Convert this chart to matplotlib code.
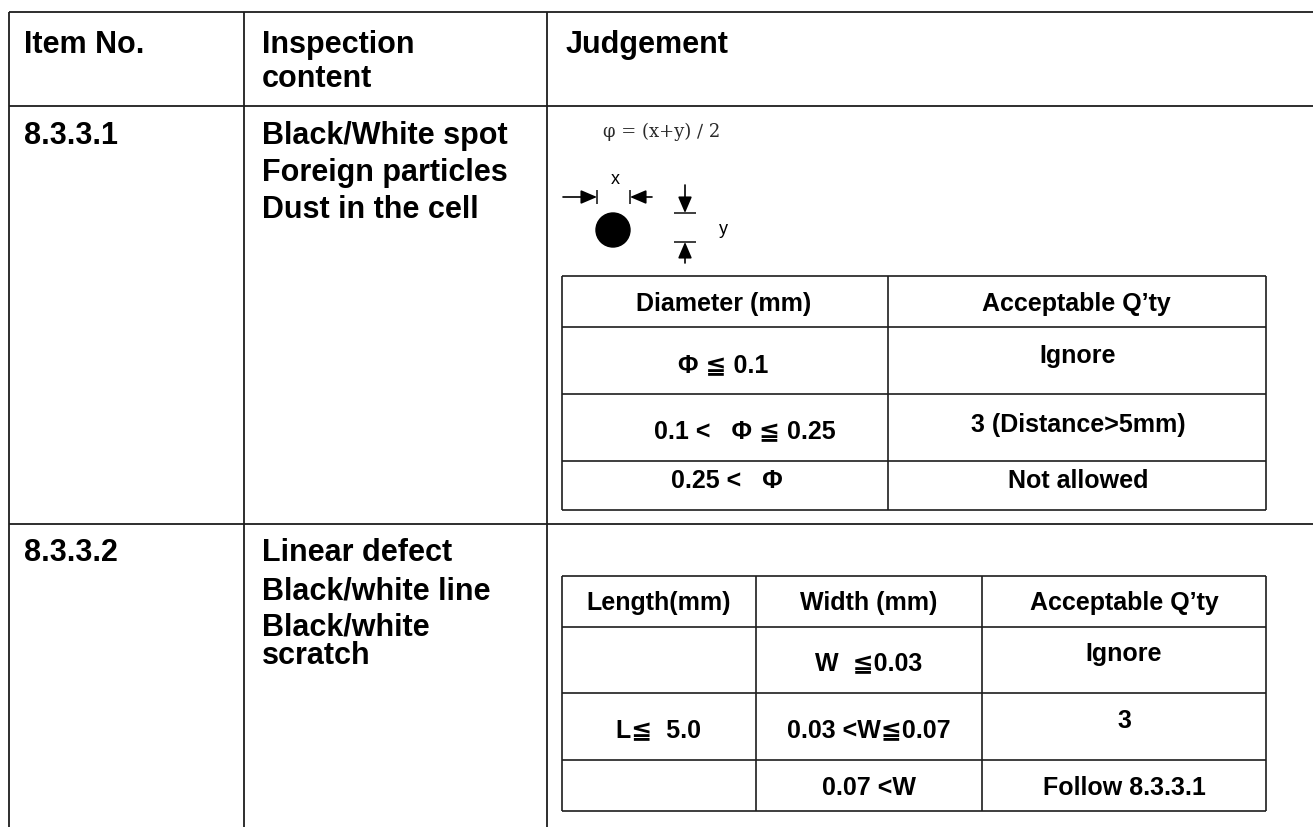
import matplotlib
matplotlib.use('Agg')
import matplotlib.pyplot as plt
from matplotlib.patches import Circle

# ---------------- data ----------------
header_cols = ["Item No.", "Inspection", "content", "Judgement"]
item_nos = ["8.3.3.1", "8.3.3.2"]
content_1 = ["Black/White spot", "Foreign particles", "Dust in the cell"]
content_2 = ["Linear defect", "Black/white line", "Black/white", "scratch"]
formula = "φ = (x+y) ∕ 2"
dim_labels = ["x", "y"]

spot_headers = ["Diameter (mm)", "Acceptable Q\u2019ty"]
spot_diameter = ["Φ ≦ 0.1", "0.1 <   Φ ≦ 0.25", "0.25 <   Φ"]
spot_qty = ["Ignore", "3 (Distance>5mm)", "Not allowed"]

line_headers = ["Length(mm)", "Width (mm)", "Acceptable Q\u2019ty"]
line_length = ["", "L≦  5.0", ""]
line_width = ["W  ≦0.03", "0.03 <W≦0.07", "0.07 <W"]
line_qty = ["Ignore", "3", "Follow 8.3.3.1"]

# ---------------- figure ----------------
W, H = 1313, 827
fig = plt.figure(figsize=(W / 100, H / 100), dpi=100)
ax = fig.add_axes([0, 0, 1, 1])
ax.set_xlim(0, W)
ax.set_ylim(H, 0)
ax.axis('off')

FAM = ['Liberation Sans', 'DejaVu Sans', 'Noto Sans CJK SC']
BIG = dict(family=FAM, weight='bold', color='black', fontsize=22)
SMALL = dict(family=FAM, weight='bold', color='black', fontsize=18)
LC = '#1e1e1e'


def hline(y, x0, x1, lw=1.3):
    ax.plot([x0, x1], [y, y], color=LC, lw=lw, solid_capstyle='butt')


def vline(x, y0, y1, lw=1.3):
    ax.plot([x, x], [y0, y1], color=LC, lw=lw, solid_capstyle='butt')


# outer table
for y in (12, 106, 524):
    hline(y, 9, W)
for x in (9, 244, 547):
    vline(x, 12, H)

# header texts
ax.text(24, 53, header_cols[0], ha='left', va='baseline', **BIG)
ax.text(262, 53, header_cols[1], ha='left', va='baseline', **BIG)
ax.text(262, 87, header_cols[2], ha='left', va='baseline', **BIG)
ax.text(566, 53, header_cols[3], ha='left', va='baseline', **BIG)

# row 1
ax.text(24, 144, item_nos[0], ha='left', va='baseline', **BIG)
for i, t in enumerate(content_1):
    ax.text(262, 144 + 37 * i, t, ha='left', va='baseline', **BIG)

# row 2
ax.text(24, 561, item_nos[1], ha='left', va='baseline', **BIG)
for t, yb in zip(content_2, (561, 599, 636, 664)):
    ax.text(262, yb, t, ha='left', va='baseline', **BIG)

# ---------------- spot diagram ----------------
ax.text(603, 137, formula, ha='left', va='baseline', fontsize=13,
        family=['DejaVu Serif'], color='#2a2a2a')


def arrow(tail, tip):
    ax.annotate('', xy=tip, xytext=tail,
                arrowprops=dict(arrowstyle='-|>,head_length=0.7,head_width=0.3',
                                color='black', lw=1.2, shrinkA=0, shrinkB=0,
                                mutation_scale=14))


arrow((563, 197), (597, 197))
vline(597, 190, 204, lw=1.2)
arrow((652, 197), (630, 197))
vline(630, 190, 204, lw=1.2)
arrow((685, 185), (685, 213))
hline(213, 674, 696, lw=1.2)
arrow((685, 263), (685, 242))
hline(242, 674, 696, lw=1.2)
ax.add_patch(Circle((613, 230), 17, color='black'))
ax.text(615, 179, dim_labels[0], ha='center', va='center', fontsize=13,
        family=FAM, color='black')
ax.text(723, 230, dim_labels[1], ha='center', va='center', fontsize=13,
        family=FAM, color='black')

# ---------------- inner table 1 ----------------
t1_x = [562, 888, 1266]
t1_y = [276, 327, 394, 461, 510]
for y in t1_y:
    hline(y, t1_x[0], t1_x[-1], lw=1.2)
for x in t1_x:
    vline(x, t1_y[0], t1_y[-1], lw=1.2)

ax.text(724, 310.5, spot_headers[0], ha='center', va='baseline', **SMALL)
ax.text(1076, 310.5, spot_headers[1], ha='center', va='baseline', **SMALL)
for t, xc, yb in zip(spot_diameter, (723, 745, 727), (372, 438, 488)):
    ax.text(xc, yb, t, ha='center', va='baseline', **SMALL)
for t, yb in zip(spot_qty, (363, 432, 488)):
    ax.text(1078, yb, t, ha='center', va='baseline', **SMALL)

# ---------------- inner table 2 ----------------
t2_x = [562, 755.5, 982, 1266]
t2_y = [576, 627, 693, 760, 811]
for y in t2_y:
    hline(y, t2_x[0], t2_x[-1], lw=1.2)
for x in t2_x:
    vline(x, t2_y[0], t2_y[-1], lw=1.2)

for t, xc in zip(line_headers, (659, 868.5, 1124)):
    ax.text(xc, 610, t, ha='center', va='baseline', **SMALL)
for t, yb in zip(line_length, (670, 737, 795)):
    if t:
        ax.text(659, yb, t, ha='center', va='baseline', **SMALL)
for t, yb in zip(line_width, (670, 737, 795)):
    ax.text(868.5, yb, t, ha='center', va='baseline', **SMALL)
for t, yb in zip(line_qty, (661, 728, 795)):
    ax.text(1124, yb, t, ha='center', va='baseline', **SMALL)

fig.savefig('out.png', dpi=100, facecolor='white')
